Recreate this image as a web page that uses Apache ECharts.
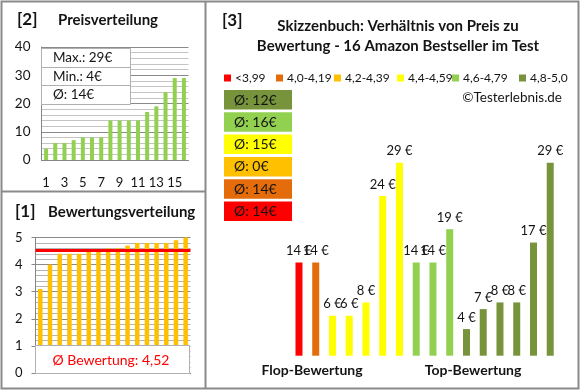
<!DOCTYPE html>
<html><head><meta charset="utf-8">
<script src="https://cdn.jsdelivr.net/npm/echarts@6/dist/echarts.min.js"></script>
<style>html,body{margin:0;padding:0;background:#fff}#c{width:580px;height:391px}</style>
</head><body><div id="c"></div>
<script>
// ---- data ----
const priceCats = ['1','2','3','4','5','6','7','8','9','10','11','12','13','14','15','16'];
const prices = [4,6,6,7,8,8,8,14,14,14,14,17,19,24,29,29];
const priceStats = ['Max.: 29€','Min.: 4€','Ø: 14€'];
const ratings = [3.1,4.0,4.4,4.4,4.4,4.5,4.5,4.6,4.6,4.7,4.8,4.8,4.8,4.8,4.9,5.0];
const ratingAvg = 4.52;
const ratingAvgLabel = 'Ø Bewertung: 4,52';
const groupNames = ['<3,99','4,0-4,19','4,2-4,39','4,4-4,59','4,6-4,79','4,8-5,0'];
const groupColors = ['#FF0000','#E46C0A','#FFC000','#FFFF00','#92D050','#77933C'];
const groupAvgLabels = ['Ø: 14€','Ø: 14€','Ø: 0€','Ø: 15€','Ø: 16€','Ø: 12€'];
const sortedPrices = [14,14,6,6,8,24,29,14,14,19,4,7,8,8,17,29];
const sortedGroup = [0,1,3,3,3,3,3,4,4,4,5,5,5,5,5,5];
const mainTitle = ['Skizzenbuch: Verhältnis von Preis zu','Bewertung - 16 Amazon Bestseller im Test'];

const FONT = 'Lato';
const TXT = '#141414';
const chart = echarts.init(document.getElementById('c'), null, {renderer:'canvas'});

const rightSeries = groupNames.map((name, g) => ({
  name, type:'bar', xAxisIndex:2, yAxisIndex:2, stack:'r', barWidth:7,
  itemStyle:{color:groupColors[g]},
  data: sortedPrices.map((v,i)=> sortedGroup[i]===g ? v : '-'),
  label:{show:true, position:'top', distance:5, formatter:'{c} €', color:TXT, fontFamily:FONT, fontSize:13},
}));

const legendLeft = [224, 276, 334, 397, 452, 519];
const legends = groupNames.map((name,g)=>({
  left:legendLeft[g], top:72, itemWidth:7, itemHeight:7, itemGap:0, icon:'rect', padding:0,
  selectedMode:false, data:[name],
  textStyle:{fontFamily:FONT, fontSize:12, color:TXT, padding:[0,0,0,-1]}
}));

const graphics = [];
// frame
graphics.push({type:'rect', shape:{x:1.5,y:1.5,width:577,height:387}, style:{fill:null, stroke:'#8a8a8a', lineWidth:2}, z:200});
graphics.push({type:'line', shape:{x1:205.5,y1:1,x2:205.5,y2:389}, style:{stroke:'#8a8a8a', lineWidth:2}, z:200});
graphics.push({type:'line', shape:{x1:1,y1:191.5,x2:205,y2:191.5}, style:{stroke:'#8a8a8a', lineWidth:2}, z:200});
// headings
const txt = (text,x,y,size,weight,extra) => Object.assign({type:'text', x, y, z:150,
  style:{text, fill:TXT, font:(weight||'normal')+' '+size+'px '+FONT, textVerticalAlign:'middle'}}, extra||{});
graphics.push(txt('[2]',17,20,17,'bold'));
graphics.push(txt('Preisverteilung',58,20,15,'bold'));
graphics.push(txt('[1]',15,212,17,'bold'));
graphics.push(txt('Bewertungsverteilung',48,212,15,'bold'));
graphics.push(txt('[3]',222,21,17,'bold'));
mainTitle.forEach((t,i)=>{ const o = txt(t,398,26+i*20,15,'bold'); o.style.textAlign='center'; graphics.push(o); });
const copy = txt('©Testerlebnis.de',562,98,13.5,'normal'); copy.style.textAlign='right'; graphics.push(copy);
// price stats box
graphics.push({type:'rect', z:120, shape:{x:41.5,y:48.5,width:89,height:56}, style:{fill:'#fff', stroke:'#b0b0b0', lineWidth:1}});
graphics.push({type:'line', z:121, shape:{x1:41.5,y1:67.5,x2:130.5,y2:67.5}, style:{stroke:'#b0b0b0', lineWidth:1}});
graphics.push({type:'line', z:121, shape:{x1:41.5,y1:85.5,x2:130.5,y2:85.5}, style:{stroke:'#b0b0b0', lineWidth:1}});
priceStats.forEach((t,i)=> graphics.push(txt(t,53,58+i*18.5,13.5,'normal')));
// rating avg box
graphics.push({type:'rect', z:120, shape:{x:35.5,y:345.5,width:154,height:28}, style:{fill:'#fff', stroke:'#b0b0b0', lineWidth:1}});
const ra = txt(ratingAvgLabel,111,360,14,'normal'); ra.style.fill='#FF0000'; ra.style.textAlign='center'; graphics.push(ra);
// group average boxes (top = best group)
for (let k=0;k<6;k++){
  const g = 5-k;
  const y = 90 + k*22.3;
  graphics.push({type:'rect', z:120, shape:{x:224,y:y,width:68,height:19.5}, style:{fill:groupColors[g]}});
  graphics.push(txt(groupAvgLabels[g],234,y+10,14,'normal'));
}
// category captions
const fl = txt('Flop-Bewertung',312,370,14,'bold'); fl.style.textAlign='center'; graphics.push(fl);
const tp = txt('Top-Bewertung',473,370,14,'bold'); tp.style.textAlign='center'; graphics.push(tp);

const option = {
  animation:false,
  textStyle:{fontFamily:FONT},
  legend:legends,
  grid:[
    {left:41.5, top:47, width:147, height:113},
    {left:35.5, top:237.5, width:155, height:135.5},
    {left:290.6, top:142.7, width:268, height:213}
  ],
  xAxis:[
    {gridIndex:0, type:'category', data:priceCats, axisTick:{show:false},
      axisLine:{lineStyle:{color:'#868686'}},
      axisLabel:{interval:1, margin:16, color:TXT, fontFamily:FONT, fontSize:13}},
    {gridIndex:1, type:'category', data:priceCats, axisTick:{show:false}, axisLabel:{show:false},
      axisLine:{lineStyle:{color:'#868686'}}},
    {gridIndex:2, type:'category', data:priceCats, show:false}
  ],
  yAxis:[
    {gridIndex:0, type:'value', min:0, max:40, interval:10,
      axisLine:{show:true, lineStyle:{color:'#868686'}}, axisTick:{show:false},
      axisLabel:{margin:11, color:TXT, fontFamily:FONT, fontSize:13.5},
      splitLine:{lineStyle:{color:'#8a8a8a'}},
      minorTick:{show:false, splitNumber:5}, minorSplitLine:{show:true, lineStyle:{color:'#c4c4c4'}}},
    {gridIndex:1, type:'value', min:0, max:5, interval:1,
      axisLine:{show:true, lineStyle:{color:'#868686'}}, axisTick:{show:true, length:4, lineStyle:{color:'#868686'}},
      axisLabel:{margin:13, color:TXT, fontFamily:FONT, fontSize:13},
      splitLine:{lineStyle:{color:'#8a8a8a'}},
      minorTick:{show:false, splitNumber:5}, minorSplitLine:{show:true, lineStyle:{color:'#b4b4b4'}}},
    {gridIndex:2, type:'value', min:0, max:32, show:false}
  ],
  series:[
    {type:'bar', xAxisIndex:0, yAxisIndex:0, data:prices, barWidth:4, itemStyle:{color:'#92D050'}},
    {type:'bar', xAxisIndex:1, yAxisIndex:1, data:ratings, barWidth:4.5, itemStyle:{color:'#FFC000'},
      markLine:{silent:true, symbol:'none', label:{show:false},
        lineStyle:{color:'#FF0000', width:3, type:'solid'}, data:[{yAxis:ratingAvg}]}},
    ...rightSeries
  ],
  graphic:graphics
};
chart.setOption(option);
</script></body></html>
